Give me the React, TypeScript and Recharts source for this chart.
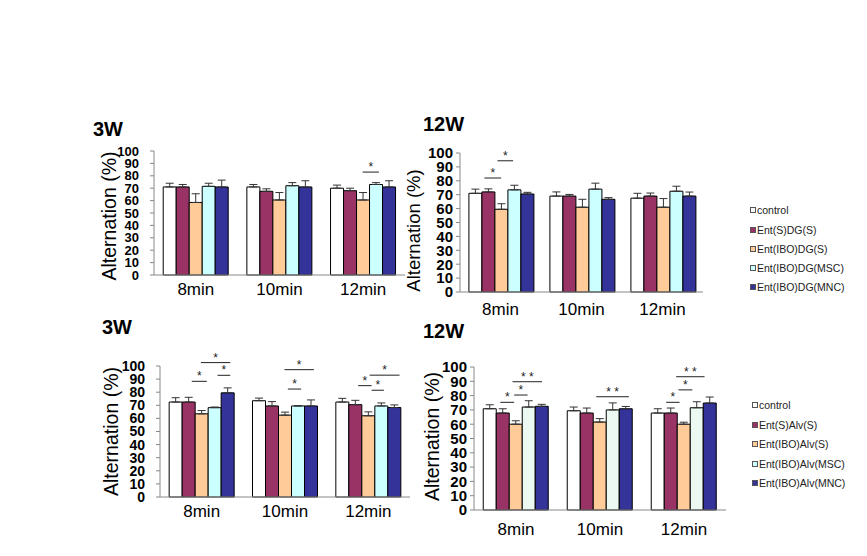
import React from 'react';
import { Bar, BarChart, ErrorBar, Label, LabelList, XAxis, YAxis } from 'recharts';

const categories = ['8min', '10min', '12min'];
const yTicks = [0, 10, 20, 30, 40, 50, 60, 70, 80, 90, 100];

const dgNames = ['control', 'Ent(S)DG(S)', 'Ent(IBO)DG(S)', 'Ent(IBO)DG(MSC)', 'Ent(IBO)DG(MNC)'];
const alvNames = ['control', 'Ent(S)Alv(S)', 'Ent(IBO)Alv(S)', 'Ent(IBO)Alv(MSC)', 'Ent(IBO)Alv(MNC)'];

// rows = groups (control, S, IBO, MSC, MNC), columns = 8 / 10 / 12 min
const dg3wMean = [
  [71, 71, 70],
  [71, 67.5, 68],
  [58.5, 60.5, 60.5],
  [71.5, 72, 73],
  [71, 71, 71],
];
const dg3wErr = [
  [3, 2, 2.5],
  [2, 2, 2],
  [7, 6, 6],
  [2.5, 2.5, 1.5],
  [5.5, 5, 5],
];

const dg12wMean = [
  [71, 69, 67.5],
  [72, 69, 69],
  [59.5, 61, 61],
  [73.5, 74, 72.5],
  [70.5, 66.7, 69],
];
const dg12wErr = [
  [3, 3, 3.5],
  [2.2, 1.2, 2.2],
  [4, 5.7, 6.2],
  [3.3, 4.3, 3.6],
  [1.2, 1.2, 2.9],
];

const alv3wMean = [
  [72.5, 73.5, 72.5],
  [72.5, 69.5, 70.5],
  [63.5, 62.5, 62],
  [68.2, 69.5, 69.5],
  [79.5, 69.5, 68.3],
];
const alv3wErr = [
  [3.3, 2, 2.8],
  [3.6, 3.3, 3.3],
  [2.5, 2.3, 3],
  [0.5, 0.2, 2.3],
  [3.8, 4.6, 2],
];

const alv12wMean = [
  [70.8, 69.4, 67.8],
  [67.8, 67.8, 67.8],
  [60, 61.5, 60],
  [72, 70, 71.5],
  [72.5, 70.8, 74.8],
];
const alv12wErr = [
  [2.8, 2.6, 3],
  [3, 3.5, 3.5],
  [2.4, 2.4, 1.4],
  [4.4, 4.9, 4.2],
  [1.4, 1.6, 4.2],
];

// significance bars: cat index, from/to in bar widths (0 = left edge of first bar, 5 = right edge of last)
const dg3wSig = [{ cat: 2, from: 2.47, to: 3.72, y: 83, text: '*' }];
const dg12wSig = [
  { cat: 0, from: 1.19, to: 2.48, y: 82, text: '*' },
  { cat: 0, from: 2.2, to: 3.4, y: 94.4, text: '*' },
];
const alv3wSig = [
  { cat: 0, from: 1.74, to: 2.9, y: 88.3, text: '*' },
  { cat: 0, from: 2.44, to: 4.7, y: 102.6, text: '*' },
  { cat: 0, from: 3.72, to: 4.7, y: 92.9, text: '*' },
  { cat: 1, from: 2.72, to: 3.74, y: 82.4, text: '*' },
  { cat: 1, from: 2.46, to: 4.72, y: 97.2, text: '*' },
  { cat: 2, from: 1.72, to: 2.75, y: 85, text: '*' },
  { cat: 2, from: 2.75, to: 3.7, y: 81.5, text: '*' },
  { cat: 2, from: 2.6, to: 4.9, y: 93, text: '*' },
];
const alv12wSig = [
  { cat: 0, from: 1.31, to: 2.38, y: 75.3, text: '*' },
  { cat: 0, from: 2.38, to: 3.41, y: 80.4, text: '*' },
  { cat: 0, from: 2.25, to: 4.52, y: 89.7, text: '* *' },
  { cat: 1, from: 2.23, to: 4.74, y: 79.2, text: '* *' },
  { cat: 2, from: 1.15, to: 2.18, y: 75.3, text: '*' },
  { cat: 2, from: 2.1, to: 3.16, y: 84, text: '*' },
  { cat: 2, from: 1.92, to: 4.1, y: 93.2, text: '* *' },
];

const COLORS = ['#FFFFFF', '#993366', '#FFCC99', '#CCFFFF', '#333399'];
const COLORS_ALV12 = ['#FFFFFF', '#993366', '#FFCC99', '#ECF8F2', '#333399'];

const YW = 80;
const TOP = 25;
const XH = 40;

type Sig = { cat: number; from: number; to: number; y: number; text: string };

type PanelProps = {
  mean: number[][];
  err: number[][];
  sig: Sig[];
  colors: string[];
  plot: { left: number; right: number; top: number; bottom: number };
  tickFont: number;
  tickGap: number;
  xGap: number;
  labelDist: number;
  labelDy: number;
  labelFont: number;
};

// draws the significance brackets of one group, anchored on that group's first bar
function sigRenderer(sig: Sig[]) {
  return (props: any) => {
    const x = Number(props.x);
    const y = Number(props.y);
    const width = Number(props.width);
    const height = Number(props.height);
    const value = Number(props.value);
    const marks = sig.filter((s) => s.cat === props.index);
    if (!marks.length || !value) return null;
    const base = y + height;
    const k = height / value;
    return (
      <g>
        {marks.map((s, i) => {
          const yy = base - s.y * k;
          const x1 = x + s.from * width;
          const x2 = x + s.to * width;
          return (
            <g key={i}>
              <line x1={x1} x2={x2} y1={yy} y2={yy} stroke="#222" strokeWidth={1} />
              <text x={(x1 + x2) / 2} y={yy - 1} textAnchor="middle" fontSize={12} fill="#222">
                {s.text}
              </text>
            </g>
          );
        })}
      </g>
    );
  };
}

function Panel({ mean, err, sig, colors, plot, tickFont, tickGap, xGap, labelDist, labelDy, labelFont }: PanelProps) {
  const rows = categories.map((t, c) => {
    const row: Record<string, unknown> = { t };
    mean.forEach((s, k) => {
      row['s' + k] = s[c];
      row['e' + k] = [0, err[k][c]];
    });
    return row;
  });
  const w = plot.right - plot.left + YW + 10;
  const h = plot.bottom - plot.top + TOP + XH;

  return (
    <div style={{ position: 'absolute', left: plot.left - YW, top: plot.top - TOP }}>
      <BarChart
        width={w}
        height={h}
        data={rows}
        margin={{ top: TOP, right: 10, left: 0, bottom: 0 }}
        barCategoryGap="11%"
        barGap={0}
      >
        <XAxis
          dataKey="t"
          interval={0}
          tickLine={false}
          tickSize={0}
          tickMargin={xGap}
          height={XH}
          stroke="#888"
          tick={{ fontSize: 17, fill: '#000' }}
        />
        <YAxis
          domain={[0, 100]}
          ticks={yTicks}
          interval={0}
          width={YW}
          tickSize={4}
          tickMargin={tickGap}
          stroke="#888"
          tick={{ fontSize: tickFont, fontWeight: 700, fill: '#000' }}
        >
          <Label
            content={(props: any) => {
              const vb = props.viewBox || {};
              const x = vb.x + vb.width - labelDist;
              const y = vb.y + vb.height / 2 + labelDy;
              return (
                <text
                  x={x}
                  y={y}
                  transform={`rotate(-90, ${x}, ${y})`}
                  textAnchor="middle"
                  dominantBaseline="central"
                  fontSize={labelFont}
                  fill="#000"
                >
                  Alternation (%)
                </text>
              );
            }}
          />
        </YAxis>
        {colors.map((col, k) => (
          <Bar key={k} dataKey={'s' + k} fill={col} stroke="#000" strokeWidth={1} isAnimationActive={false}>
            <ErrorBar dataKey={'e' + k} width={4} stroke="#333" strokeWidth={1} direction="y" />
            {k === 0 && <LabelList dataKey="s0" content={sigRenderer(sig)} />}
          </Bar>
        ))}
      </BarChart>
    </div>
  );
}

function LegendBox({ names, colors, left, rowsY, clip }: { names: string[]; colors: string[]; left: number; rowsY: number[]; clip?: number }) {
  return (
    <div style={{ position: 'absolute', left, top: 0, width: clip ?? 120, height: 556, overflow: 'hidden' }}>
      {names.map((n, i) => (
        <div
          key={n}
          style={{
            position: 'absolute',
            left: 0,
            top: rowsY[i] - 6,
            height: 12,
            display: 'flex',
            alignItems: 'center',
            whiteSpace: 'nowrap',
            fontSize: 10.5,
            color: '#222',
          }}
        >
          <span
            style={{
              display: 'inline-block',
              width: 4,
              height: 4,
              background: colors[i],
              border: '1px solid #555',
              marginRight: 1,
            }}
          />
          {n}
        </div>
      ))}
    </div>
  );
}

const titleStyle: React.CSSProperties = {
  position: 'absolute',
  fontSize: 20,
  lineHeight: '20px',
  fontWeight: 700,
  color: '#000',
};

export default function App() {
  return (
    <div
      style={{
        position: 'absolute',
        left: 0,
        top: 0,
        width: 867,
        height: 556,
        background: '#fff',
        overflow: 'hidden',
        fontFamily: 'Arial, "Liberation Sans", sans-serif',
      }}
    >
      <div style={{ ...titleStyle, left: 93, top: 119 }}>3W</div>
      <div style={{ ...titleStyle, left: 423, top: 114 }}>12W</div>
      <div style={{ ...titleStyle, left: 102, top: 317 }}>3W</div>
      <div style={{ ...titleStyle, left: 423, top: 321 }}>12W</div>

      <Panel
        mean={dg3wMean}
        err={dg3wErr}
        sig={dg3wSig}
        colors={COLORS}
        plot={{ left: 154, right: 405, top: 151, bottom: 275 }}
        tickFont={13}
        tickGap={11}
        xGap={8}
        labelDist={45}
        labelDy={3}
        labelFont={19.5}
      />
      <Panel
        mean={dg12wMean}
        err={dg12wErr}
        sig={dg12wSig}
        colors={COLORS}
        plot={{ left: 460, right: 703, top: 153, bottom: 292 }}
        tickFont={15}
        tickGap={3}
        xGap={11}
        labelDist={47}
        labelDy={8}
        labelFont={18.5}
      />
      <Panel
        mean={alv3wMean}
        err={alv3wErr}
        sig={alv3wSig}
        colors={COLORS}
        plot={{ left: 160, right: 410, top: 366, bottom: 497 }}
        tickFont={14}
        tickGap={11}
        xGap={8}
        labelDist={49}
        labelDy={0}
        labelFont={19.5}
      />
      <Panel
        mean={alv12wMean}
        err={alv12wErr}
        sig={alv12wSig}
        colors={COLORS_ALV12}
        plot={{ left: 474, right: 726, top: 367, bottom: 510 }}
        tickFont={15}
        tickGap={3}
        xGap={13}
        labelDist={42}
        labelDy={-2}
        labelFont={19.5}
      />

      <LegendBox names={dgNames} colors={COLORS} left={750} rowsY={[210, 230, 249, 268, 287]} clip={102} />
      <LegendBox names={alvNames} colors={COLORS} left={752} rowsY={[405, 425, 444, 464, 483]} />
    </div>
  );
}
